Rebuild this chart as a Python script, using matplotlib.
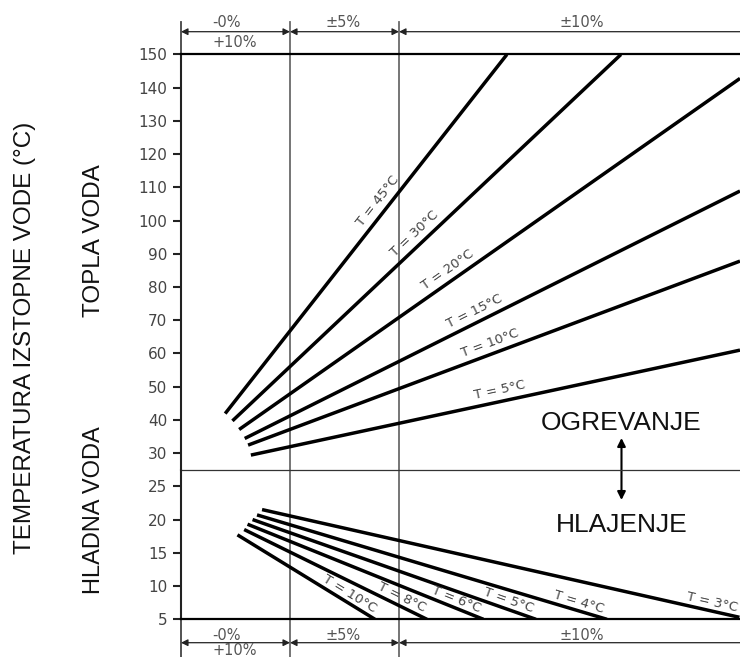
import math
import matplotlib.pyplot as plt

# ogrevanje (topla voda) - temperatura vhodne vode T
heat_temps = [45, 30, 20, 15, 10, 5]
heat_x_start = [7.9, 9.2, 10.4, 11.4, 12.0, 12.5]
heat_y_start = [41.9, 39.7, 37.1, 34.4, 32.4, 29.4]
heat_x_end = [58.3, 78.7, 100, 100, 100, 100]
heat_y_end = [150, 150, 142.8, 108.9, 87.8, 61.0]
heat_label_x = [36.7, 43.2, 48.8, 53.4, 55.9, 57.5]

# hlajenje (hladna voda)
cool_temps = [10, 8, 6, 5, 4, 3]
cool_x_start = [10.1, 11.3, 11.9, 12.8, 13.6, 14.5]
cool_y_start = [17.7, 18.5, 19.3, 20.0, 20.7, 21.5]
cool_x_end = [34.7, 44.0, 54.1, 63.5, 76.2, 99.9]
cool_y_end = [5, 5, 5, 5, 5, 5.3]
cool_label_x = [29.4, 38.8, 48.7, 58.1, 70.7, 94.6]

# tolerancna obmocja
zone_edges = [0, 19.5, 39, 100]
zone_labels = ['-0%', '±5%', '±10%']

hot_ticks = list(range(30, 151, 10))
cold_ticks = list(range(5, 26, 5))

plt.rcParams['font.family'] = ['DejaVu Sans']

W, H = 740, 657
fig = plt.figure(figsize=(W / 100, H / 100), dpi=100)


def box(x0, y0, x1, y1):
    # pixel box -> figure fraction
    return [x0 / W, 1 - y1 / H, (x1 - x0) / W, (y1 - y0) / H]


# okvir z navpicnimi crtami in kotirnimi puscicami (y v pikslih od zgoraj)
frame = fig.add_axes(box(181, 21.7, 740, 657))
frame.set_xlim(0, 100)
frame.set_ylim(657, 21.7)
frame.axis('off')
frame.set_facecolor('none')

ax_hot = fig.add_axes(box(181, 54.5, 740, 469.7))
ax_cold = fig.add_axes(box(181, 469.7, 740, 619.3))

for x in zone_edges[:-1]:
    frame.plot([x, x], [21.7, 657], color='#6a6a6a' if x else '#444', lw=1.3, clip_on=False)

for yarr in (31.7, 642.7):
    for i in range(3):
        style = '<|-|>' if i < 2 else '<|-'
        frame.annotate('', xy=(zone_edges[i + 1], yarr), xytext=(zone_edges[i], yarr),
                       arrowprops=dict(arrowstyle=style, color='#222', lw=0.9,
                                       mutation_scale=10, shrinkA=0, shrinkB=0))

for ytxt in (22.7, 635):
    frame.text(8.2, ytxt, zone_labels[0], ha='center', va='center', fontsize=10.5, color='#555')
    frame.text(29.0, ytxt, zone_labels[1], ha='center', va='center', fontsize=10.5, color='#555')
    frame.text(71.7, ytxt, zone_labels[2], ha='center', va='center', fontsize=10.5, color='#555')
frame.text(9.7, 42.7, '+10%', ha='center', va='center', fontsize=10.5, color='#555')
frame.text(9.7, 650.5, '+10%', ha='center', va='center', fontsize=10.5, color='#555')

frame.text(78.8, 423.3, 'OGREVANJE', ha='center', va='center', fontsize=19,
           family='Liberation Sans', color='#111')
frame.text(78.8, 525, 'HLAJENJE', ha='center', va='center', fontsize=19,
           family='Liberation Sans', color='#111')
frame.annotate('', xy=(78.8, 500), xytext=(78.8, 438),
               arrowprops=dict(arrowstyle='<|-|>', color='black', lw=1.5,
                               mutation_scale=12, shrinkA=0, shrinkB=0))


def draw_lines(ax, temps, xs, ys, xe, ye, lx, dist):
    for t, x0, y0, x1, y1, xl in zip(temps, xs, ys, xe, ye, lx):
        ax.plot([x0, x1], [y0, y1], color='black', lw=2.5, solid_capstyle='butt')
        p0 = ax.transData.transform((x0, y0))
        p1 = ax.transData.transform((x1, y1))
        ang = math.degrees(math.atan2(p1[1] - p0[1], p1[0] - p0[0]))
        yl = y0 + (xl - x0) * (y1 - y0) / (x1 - x0)
        a = math.radians(ang)
        ax.annotate(f'T = {t}°C', (xl, yl),
                    xytext=(-math.sin(a) * dist, math.cos(a) * dist),
                    textcoords='offset points', rotation=ang, rotation_mode='anchor',
                    ha='center', va='center', fontsize=9.5, color='#444')


ax_hot.set_xlim(0, 100)
ax_hot.set_ylim(25, 150)
ax_cold.set_xlim(0, 100)
ax_cold.set_ylim(5, 27.5)

for ax in (ax_hot, ax_cold):
    ax.set_facecolor('none')
    ax.set_xticks([])
    ax.spines['right'].set_visible(False)
    ax.spines['left'].set_linewidth(1.5)
    ax.spines['left'].set_color('#222')
    ax.tick_params(axis='y', length=6, width=1.5, color='#222',
                   labelsize=11, labelcolor='#444', pad=4)

ax_hot.set_yticks(hot_ticks)
ax_cold.set_yticks(cold_ticks)
ax_hot.spines['top'].set_linewidth(1.6)
ax_hot.spines['top'].set_color('black')
ax_hot.spines['bottom'].set_linewidth(0.9)
ax_hot.spines['bottom'].set_color('#333')
ax_cold.spines['top'].set_visible(False)
ax_cold.spines['bottom'].set_linewidth(1.6)
ax_cold.spines['bottom'].set_color('black')

draw_lines(ax_hot, heat_temps, heat_x_start, heat_y_start, heat_x_end, heat_y_end,
           heat_label_x, 8)
draw_lines(ax_cold, cool_temps, cool_x_start, cool_y_start, cool_x_end, cool_y_end,
           cool_label_x, 6)

fig.text(25 / W, 1 - 337.5 / H, 'TEMPERATURA IZSTOPNE VODE (°C)', rotation=90,
         ha='center', va='center', fontsize=17.5, family='Liberation Sans', color='#111')
fig.text(94 / W, 1 - 241 / H, 'TOPLA VODA', rotation=90,
         ha='center', va='center', fontsize=17.5, family='Liberation Sans', color='#111')
fig.text(94 / W, 1 - 510.5 / H, 'HLADNA VODA', rotation=90,
         ha='center', va='center', fontsize=17, family='Liberation Sans', color='#111')

fig.savefig('out.png', dpi=100)
